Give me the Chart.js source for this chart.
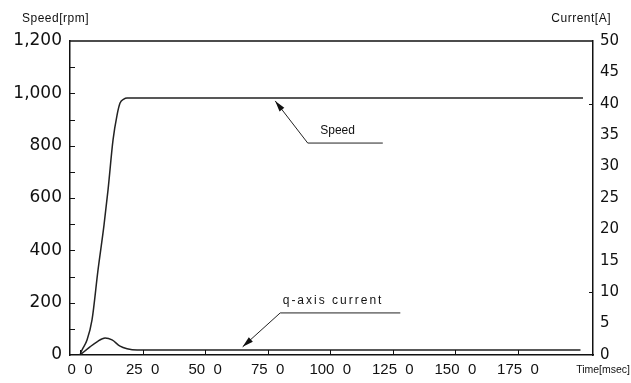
<!DOCTYPE html>
<html>
<head>
<meta charset="utf-8">
<script src="https://cdn.jsdelivr.net/npm/chart.js@4.4.1/dist/chart.umd.min.js"></script>
<style>
	html, body { margin: 0; padding: 0; background: #fff; }
	canvas { display: block; }
</style>
</head>
<body>
<canvas id="motorChart" width="631" height="383"></canvas>
<script>
// values
const speedTime = [0, 0.8, 2.8, 4.8, 7.2, 9.6, 11.2, 13.2, 14.8, 16, 17.5, 18.8, 201];
const speedRpm = [0, 19, 57, 134, 325, 497, 631, 822, 917, 963, 978, 982, 982];
const currentTime = [0, 4, 6.8, 10, 12.8, 16, 18.8, 22.8, 200];
const currentAmp = [0, 1.3, 2.1, 2.7, 2.4, 1.4, 1.0, 0.8, 0.8];

const timeTicks = [0, 25, 50, 75, 100, 125, 150, 175];
const timeLabels = ['0  0', '25  0', '50  0', '75  0', '100  0', '125  0', '150  0', '175  0'];
const speedTicks = [0, 200, 400, 600, 800, 1000, 1200];
const speedLabels = ['0', '200', '400', '600', '800', '1,000', '1,200'];
const currentTicks = [0, 5, 10, 15, 20, 25, 30, 35, 40, 45, 50];

// callouts, in data units (time, value on the named axis)
const callouts = [
	{ text: 'Speed', axis: 'y', tip: [78, 971], elbow: [91, 810], end: [121, 810], at: [96, 858], spacing: 0 },
	{ text: 'q-axis current', axis: 'y1', tip: [65, 1.3], elbow: [80, 6.7], end: [128, 6.7], at: [81, 8.7], spacing: 2 }
];

const toPoints = (xs, ys) => xs.map((x, i) => ({ x, y: ys[i] }));

const frame = {
	id: 'frame',
	afterDraw(chart) {
		const { ctx, chartArea: a, scales } = chart;
		ctx.save();
		ctx.strokeStyle = '#111';
		ctx.lineWidth = 1.5;
		ctx.beginPath();
		ctx.moveTo(a.left, a.top);
		ctx.lineTo(a.right, a.top);
		ctx.stroke();

		// small inner ticks
		ctx.lineWidth = 1;
		ctx.beginPath();
		for (let v = 100; v < 1200; v += 100) {
			const y = Math.round(scales.y.getPixelForValue(v)) + 0.5;
			ctx.moveTo(a.left, y);
			ctx.lineTo(a.left + 5, y);
		}
		timeTicks.forEach(t => {
			const x = Math.round(scales.x.getPixelForValue(t)) + 0.5;
			ctx.moveTo(x, a.bottom);
			ctx.lineTo(x, a.bottom - 5);
		});
		[40, 10].forEach(v => {
			const y = Math.round(scales.y1.getPixelForValue(v)) + 0.5;
			ctx.moveTo(a.right, y);
			ctx.lineTo(a.right - 4, y);
		});
		ctx.stroke();

		// axis titles
		ctx.fillStyle = '#111';
		ctx.font = '12px "Liberation Sans", Arial, sans-serif';
		ctx.textBaseline = 'middle';
		ctx.letterSpacing = '0.5px';
		ctx.textAlign = 'left';
		ctx.fillText('Speed[rpm]', 22, 19);
		ctx.textAlign = 'right';
		ctx.fillText('Current[A]', 611, 19);
		ctx.font = '10.5px "Liberation Sans", Arial, sans-serif';
		ctx.letterSpacing = '0px';
		ctx.textAlign = 'right';
		ctx.fillText('Time[msec]', 630, 370);

		// callouts
		ctx.font = '12px "Liberation Sans", Arial, sans-serif';
		callouts.forEach(c => {
			const ys = scales[c.axis];
			const px = p => [scales.x.getPixelForValue(p[0]), ys.getPixelForValue(p[1])];
			const tip = px(c.tip), elbow = px(c.elbow), end = px(c.end), at = px(c.at);
			ctx.strokeStyle = '#222';
			ctx.lineWidth = 1;
			ctx.beginPath();
			ctx.moveTo(end[0], end[1]);
			ctx.lineTo(elbow[0], elbow[1]);
			ctx.lineTo(tip[0], tip[1]);
			ctx.stroke();
			const ang = Math.atan2(tip[1] - elbow[1], tip[0] - elbow[0]);
			ctx.fillStyle = '#111';
			ctx.beginPath();
			ctx.moveTo(tip[0], tip[1]);
			ctx.lineTo(tip[0] - 11 * Math.cos(ang) + 3 * Math.sin(ang), tip[1] - 11 * Math.sin(ang) - 3 * Math.cos(ang));
			ctx.lineTo(tip[0] - 11 * Math.cos(ang) - 3 * Math.sin(ang), tip[1] - 11 * Math.sin(ang) + 3 * Math.cos(ang));
			ctx.closePath();
			ctx.fill();
			ctx.letterSpacing = c.spacing + 'px';
			ctx.textAlign = 'left';
			ctx.fillText(c.text, at[0], at[1]);
		});
		ctx.restore();
	}
};

const chart = new Chart(document.getElementById('motorChart'), {
	type: 'line',
	data: {
		datasets: [
			{
				label: 'Speed',
				data: toPoints(speedTime, speedRpm),
				yAxisID: 'y',
				borderColor: '#222',
				borderWidth: 1.5,
				pointRadius: 0,
				cubicInterpolationMode: 'monotone',
				fill: false
			},
			{
				label: 'q-axis current',
				data: toPoints(currentTime, currentAmp),
				yAxisID: 'y1',
				borderColor: '#222',
				borderWidth: 1.5,
				pointRadius: 0,
				cubicInterpolationMode: 'monotone',
				fill: false
			}
		]
	},
	options: {
		responsive: false,
		animation: false,
		devicePixelRatio: 1,
		layout: { padding: { top: 41, left: 0, right: 0, bottom: 0 } },
		plugins: { legend: { display: false }, tooltip: { enabled: false } },
		scales: {
			x: {
				type: 'linear',
				min: -4,
				max: 205,
				grid: { display: false, drawTicks: false },
				border: { display: true, color: '#111', width: 1.5 },
				afterBuildTicks: s => { s.ticks = timeTicks.map(v => ({ value: v })); },
				afterFit: s => { s.height = 28; },
				ticks: {
					autoSkip: false,
					maxRotation: 0,
					padding: 6,
					color: '#111',
					font: { family: '"Liberation Sans", Arial, sans-serif', size: 15 },
					callback: v => timeLabels[timeTicks.indexOf(v)]
				}
			},
			y: {
				position: 'left',
				min: 0,
				max: 1200,
				grid: { display: false, drawTicks: false },
				border: { display: true, color: '#111', width: 1.5 },
				afterBuildTicks: s => { s.ticks = speedTicks.map(v => ({ value: v })); },
				afterFit: s => { s.width = 70; },
				ticks: {
					padding: 8,
					color: '#111',
					font: { family: '"DejaVu Sans", sans-serif', size: 17 },
					callback: v => speedLabels[speedTicks.indexOf(v)]
				}
			},
			y1: {
				position: 'right',
				min: 0,
				max: 50,
				grid: { display: false, drawTicks: false },
				border: { display: true, color: '#111', width: 1.5 },
				afterBuildTicks: s => { s.ticks = currentTicks.map(v => ({ value: v })); },
				afterFit: s => { s.width = 38; },
				ticks: {
					padding: 7,
					color: '#111',
					font: { family: '"DejaVu Sans", sans-serif', size: 15 },
					callback: v => String(v)
				}
			}
		}
	},
	plugins: [frame]
});
</script>
</body>
</html>
